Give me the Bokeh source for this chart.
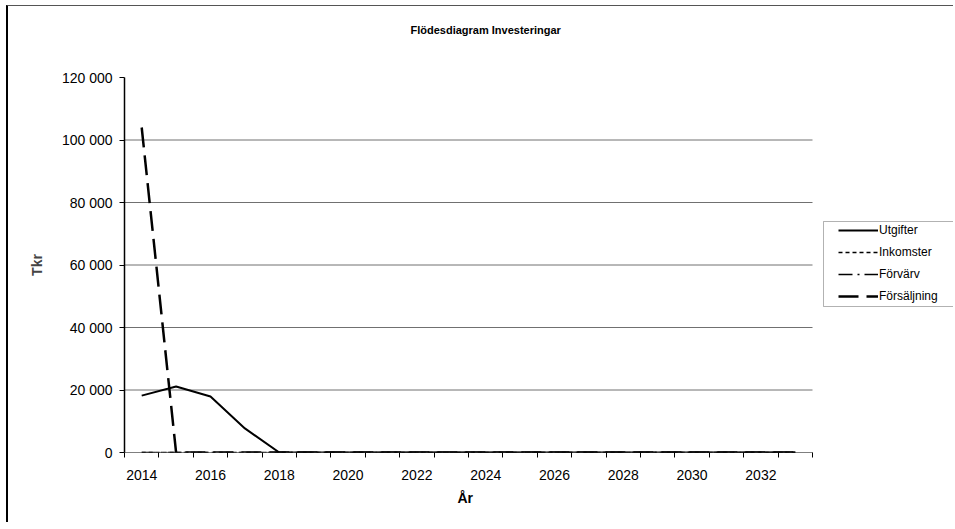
from bokeh.plotting import figure
from bokeh.models import (FixedTicker, Legend, LegendItem, Title, Range1d,
                          ColumnDataSource, BoxAnnotation)
from bokeh.embed import file_html
from bokeh.resources import INLINE

# ---- data ----
years = list(range(2014, 2034))
utgifter = [18200, 21100, 17900, 7700, 0, 0, 0, 0, 0, 0, 0, 0, 0, 0, 0, 0, 0, 0, 0, 0]
inkomster = [0] * 20
forvarv = [0] * 20
forsaljning = [104000, 0, 0, 0, 0, 0, 0, 0, 0, 0, 0, 0, 0, 0, 0, 0, 0, 0, 0, 0]
y_ticks = [0, 20000, 40000, 60000, 80000, 100000, 120000]
y_tick_labels = ["0", "20 000", "40 000", "60 000", "80 000", "100 000", "120 000"]
grid_values = [20000, 40000, 60000, 80000, 100000]
x_label_years = [2014, 2016, 2018, 2020, 2022, 2024, 2026, 2028, 2030, 2032]
title_text = "Flödesdiagram Investeringar"

FONT = "Liberation Sans"

x_lo = years[0] - 0.5
x_hi = years[-1] + 0.5
PLOT_W = 688              # pixels used by the category axis
FRAME_W = 829             # frame extends under the legend
x_end = x_lo + (x_hi - x_lo) * FRAME_W / PLOT_W

p = figure(frame_width=FRAME_W, frame_height=375, output_backend="svg", toolbar_location=None,
           x_range=Range1d(x_lo, x_end), y_range=Range1d(0, 120000),
           min_border_left=116, min_border_right=0, min_border_top=71,
           min_border_bottom=70)
p.styles = {"margin-left": "6px", "margin-top": "5px",
            "border-left": "2px solid #000000", "border-top": "1px solid #555555"}
p.outline_line_color = None
p.background_fill_color = "white"
p.border_fill_color = "white"

p.title = Title(text=title_text, align="left", offset=286,
                text_font=FONT, text_font_size="11px", text_font_style="bold",
                text_color="black")
p.add_layout(Title(text=" ", text_font_size="22px"), "above")

# x axis
xa = p.xaxis[0]
xa.ticker = FixedTicker(ticks=x_label_years, minor_ticks=[y - 0.5 for y in years] + [x_hi])
xa.major_tick_out = 0
xa.major_tick_in = 0
xa.minor_tick_out = 5
xa.minor_tick_in = 0
xa.minor_tick_line_color = "black"
xa.axis_line_color = None
xa.major_label_standoff = 12
xa.major_label_text_font = FONT
xa.major_label_text_font_size = "14px"
xa.major_label_text_color = "black"
p.add_layout(Title(text="År", align="left", offset=333, text_font=FONT,
                   text_font_size="14px", text_font_style="bold", text_color="black"),
             "below")

# y axis
ya = p.yaxis[0]
ya.ticker = FixedTicker(ticks=y_ticks, minor_ticks=[])
ya.major_label_overrides = {t: l for t, l in zip(y_ticks, y_tick_labels)}
ya.major_tick_out = 5
ya.major_tick_in = 0
ya.minor_tick_out = 0
ya.axis_line_color = "black"
ya.axis_line_width = 1.5
ya.major_label_standoff = 7
ya.major_label_text_font = FONT
ya.major_label_text_font_size = "14px"
ya.major_label_text_color = "black"
ya.axis_label = "Tkr"
ya.axis_label_text_font = FONT
ya.axis_label_text_font_size = "14px"
ya.axis_label_text_font_style = "bold"
ya.axis_label_standoff = 14

p.xgrid.grid_line_color = None
p.ygrid.grid_line_color = None

# gridlines and x axis line over the category span only
p.segment(x0=[x_lo] * len(grid_values), y0=grid_values,
          x1=[x_hi] * len(grid_values), y1=grid_values,
          line_color="#707070", line_width=1)
p.segment(x0=[x_lo], y0=[0], x1=[x_hi], y1=[0], line_color="black", line_width=1)

src = ColumnDataSource(dict(x=years, u=utgifter, i=inkomster, f=forvarv, s=forsaljning))
r_i = p.line("x", "i", source=src, line_color="black", line_width=1.5, line_dash="4 3")
r_f = p.line("x", "f", source=src, line_color="black", line_width=1.5, line_dash="14 5 2 5")
r_s = p.line("x", "s", source=src, line_color="black", line_width=2.5, line_dash="20 8")
r_u = p.line("x", "u", source=src, line_color="black", line_width=2)

# legend box
p.add_layout(BoxAnnotation(left=699, right=860, top=231, bottom=146,
                           left_units="screen", right_units="screen",
                           top_units="screen", bottom_units="screen",
                           fill_alpha=0, line_color="black", line_width=1))

legend = Legend(items=[LegendItem(label="Utgifter", renderers=[r_u]),
                       LegendItem(label="Inkomster", renderers=[r_i]),
                       LegendItem(label="Förvärv", renderers=[r_f]),
                       LegendItem(label="Försäljning", renderers=[r_s])],
                location=(714, 146), orientation="vertical")
legend.border_line_color = None
legend.background_fill_alpha = 0
legend.label_text_font = FONT
legend.label_text_font_size = "12px"
legend.label_text_color = "black"
legend.glyph_width = 40
legend.glyph_height = 20
legend.label_height = 20
legend.label_width = 60
legend.label_standoff = 1
legend.spacing = 2
legend.padding = 0
legend.margin = 0
p.add_layout(legend, "center")

open("out.html", "w").write(file_html(p, INLINE))
